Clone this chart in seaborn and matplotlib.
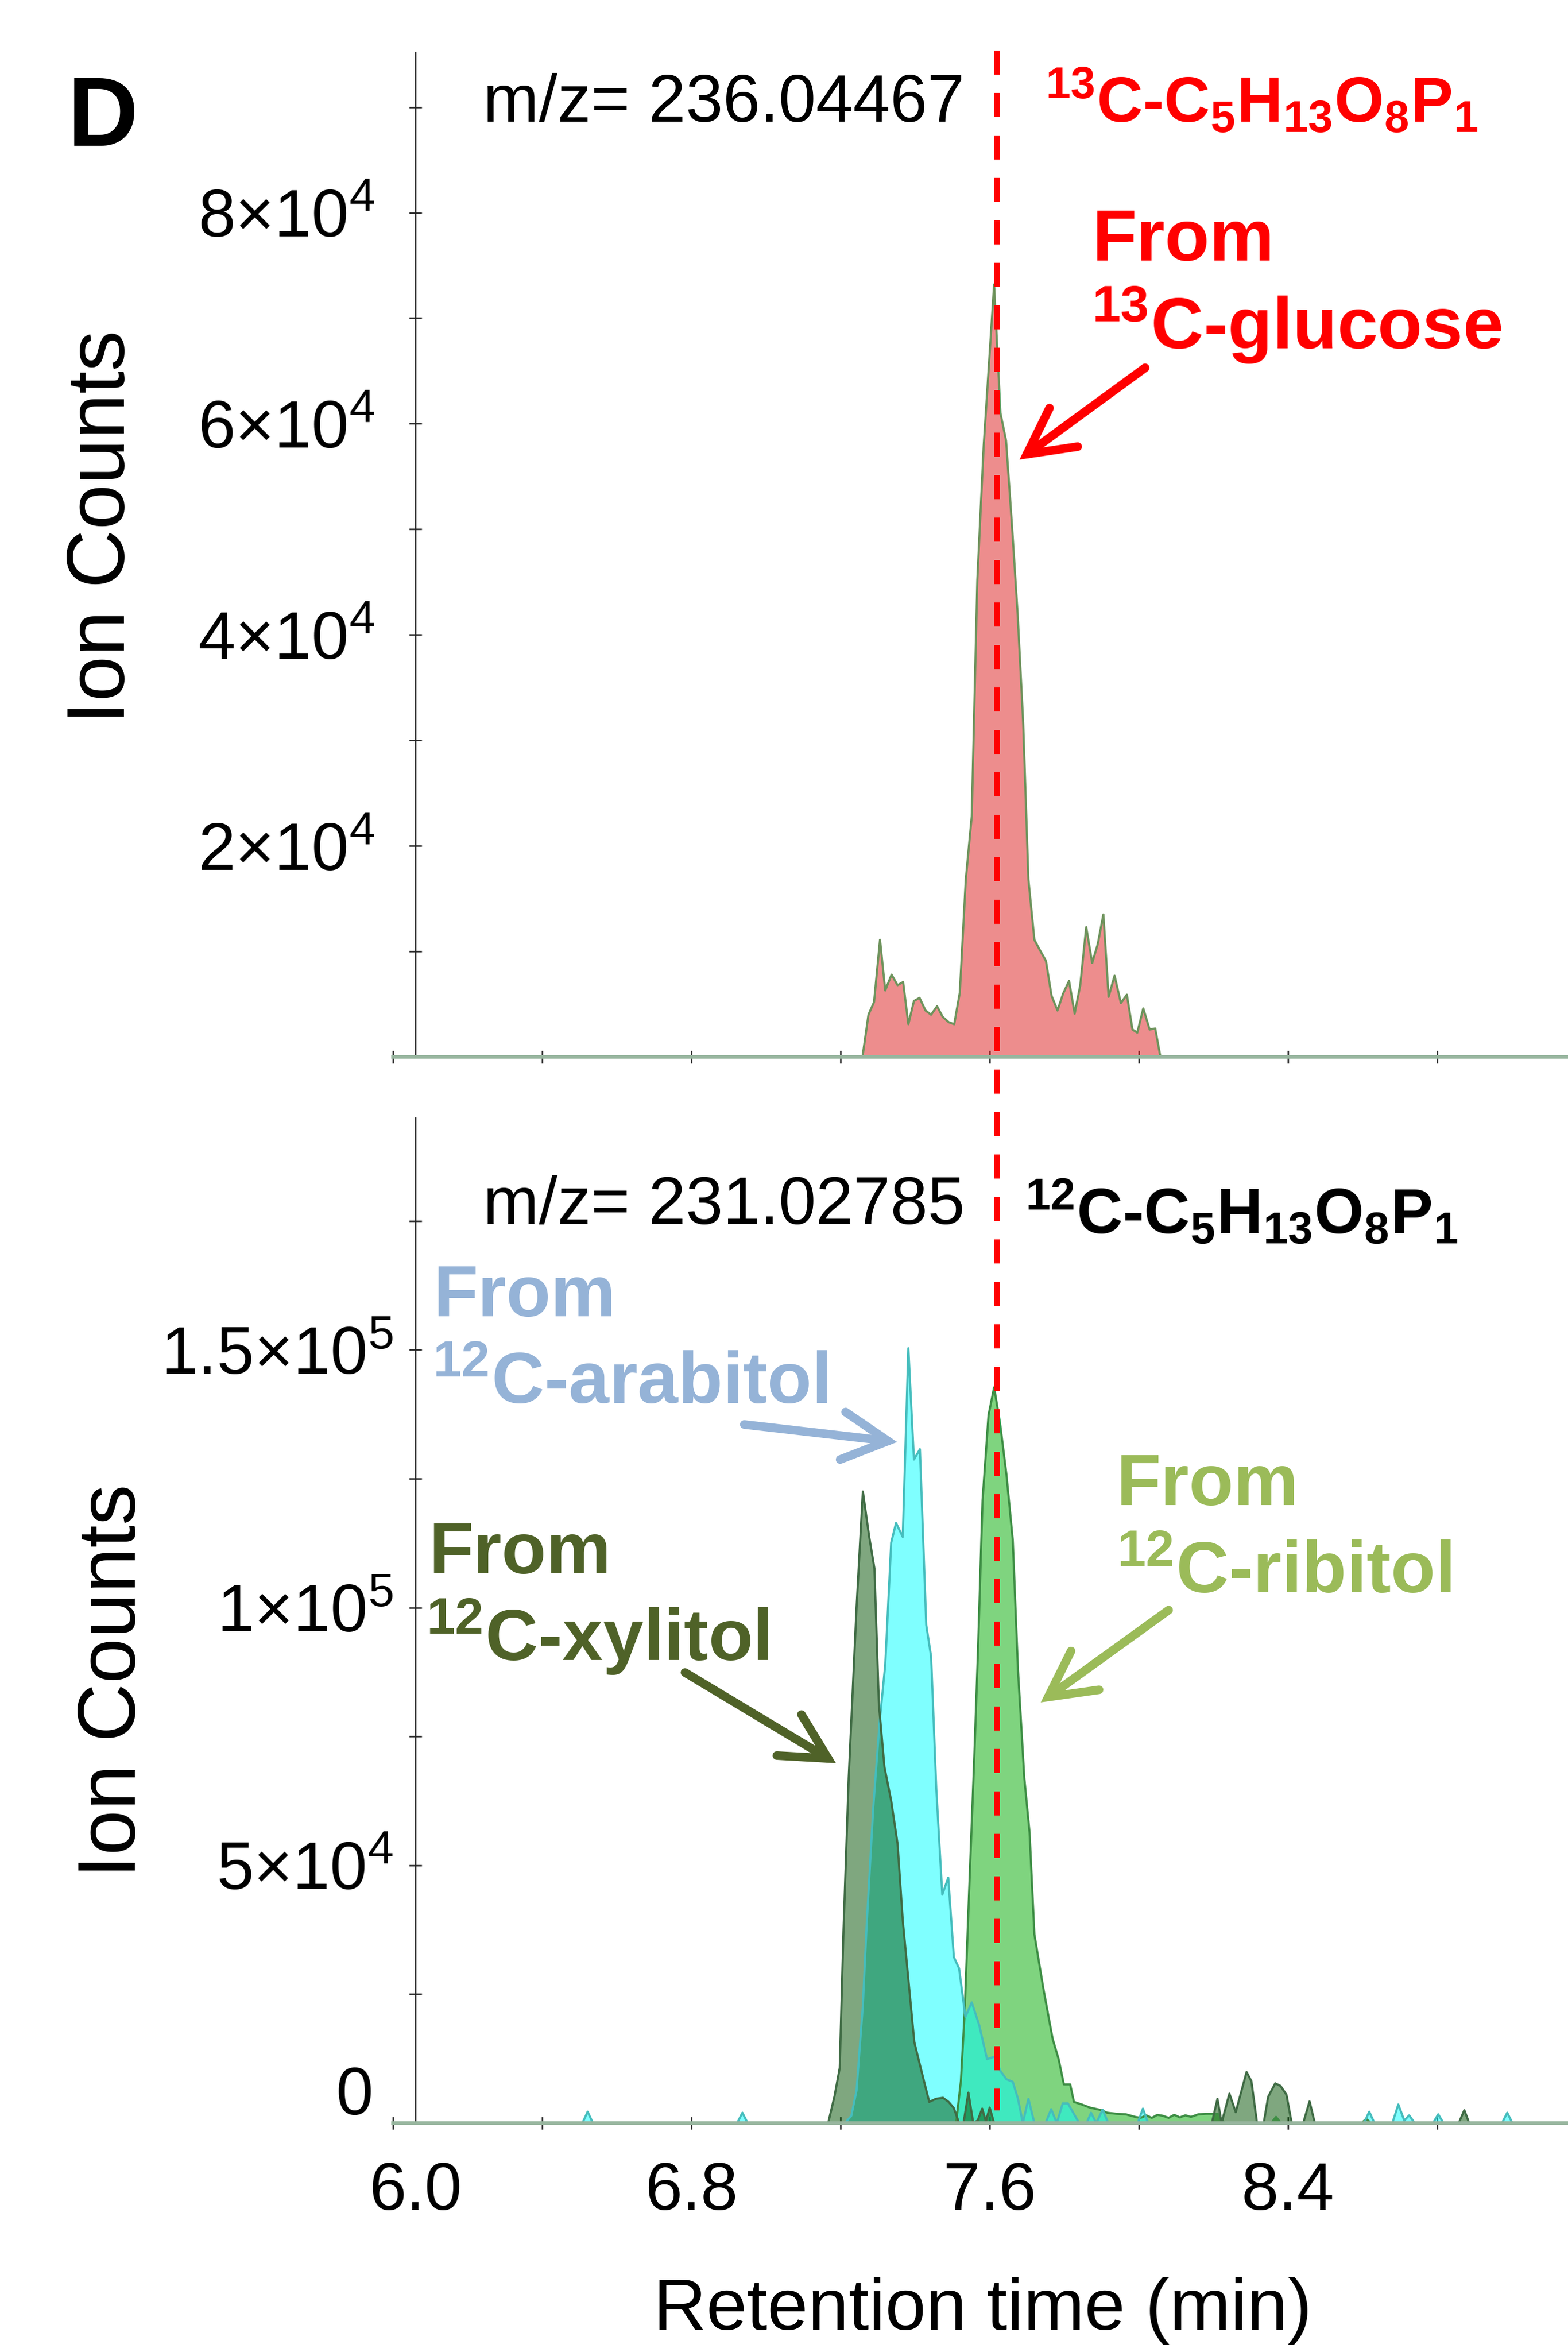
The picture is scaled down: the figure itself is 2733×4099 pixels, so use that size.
import numpy as np
import pandas as pd
import matplotlib
matplotlib.use("Agg")
import matplotlib.pyplot as plt
import matplotlib.transforms as mtransforms
from matplotlib.lines import Line2D
from matplotlib.ticker import FixedLocator, FixedFormatter, NullFormatter
import seaborn as sns

# ---------------- data (ion counts in units of 1e4) ----------------
t_glucose = [7.259, 7.275, 7.290, 7.306, 7.320, 7.337, 7.353, 7.368, 7.382, 7.397,
             7.412, 7.428, 7.443, 7.459, 7.474, 7.490, 7.505, 7.520, 7.536, 7.552,
             7.567, 7.584, 7.612, 7.629, 7.644, 7.660, 7.675, 7.690, 7.704, 7.720,
             7.735, 7.751, 7.766, 7.782, 7.797, 7.813, 7.828, 7.843, 7.859, 7.875,
             7.890, 7.905, 7.919, 7.935, 7.952, 7.968, 7.983, 7.996, 8.012, 8.029,
             8.044, 8.058]
i_glucose_e4 = [0, 0.40, 0.52, 1.11, 0.63, 0.78, 0.68, 0.71, 0.31, 0.53,
                0.56, 0.44, 0.40, 0.48, 0.38, 0.33, 0.31, 0.61, 1.68, 2.28,
                4.52, 5.79, 7.32, 6.10, 5.84, 5.03, 4.20, 3.16, 1.68, 1.11,
                1.01, 0.91, 0.58, 0.44, 0.60, 0.72, 0.41, 0.68, 1.23, 0.89,
                1.07, 1.35, 0.57, 0.77, 0.51, 0.59, 0.26, 0.23, 0.46, 0.26,
                0.27, 0]

t_ribitol = [7.510, 7.523, 7.533, 7.545, 7.559, 7.569, 7.581, 7.597, 7.612, 7.628,
             7.645, 7.662, 7.676, 7.693, 7.707, 7.720, 7.744, 7.769, 7.785, 7.799,
             7.816, 7.826, 7.847, 7.869, 7.900, 7.915, 7.940, 7.965, 7.990, 8.005,
             8.020, 8.035, 8.050, 8.065, 8.080, 8.095, 8.110, 8.125, 8.140, 8.160,
             8.180, 8.212, 8.230, 8.355, 8.368, 8.381, 8.597, 8.610, 8.623]
i_ribitol_e4 = [0, 0.82, 2.15, 4.49, 7.13, 9.22, 12.08, 13.73, 14.27, 13.57,
                12.58, 11.31, 8.78, 6.69, 5.64, 3.66, 2.61, 1.63, 1.24, 0.75,
                0.75, 0.41, 0.36, 0.30, 0.25, 0.20, 0.18, 0.17, 0.12, 0.10,
                0.15, 0.10, 0.16, 0.14, 0.10, 0.16, 0.11, 0.15, 0.12, 0.17,
                0.18, 0.18, 0, 0, 0.12, 0, 0, 0.08, 0]

t_arabitol = [6.508, 6.522, 6.536, 6.923, 6.937, 6.951,
              7.212, 7.229, 7.243, 7.260, 7.270, 7.288, 7.305, 7.320, 7.336, 7.349,
              7.367, 7.382, 7.397, 7.413, 7.430, 7.443, 7.457, 7.473, 7.489, 7.504,
              7.518, 7.535, 7.552, 7.572, 7.593, 7.614, 7.628, 7.645, 7.662, 7.676,
              7.689, 7.704, 7.720, 7.750, 7.765, 7.780, 7.796, 7.810, 7.840, 7.860,
              7.872, 7.886, 7.903, 7.918, 7.997, 8.011, 8.025,
              8.604, 8.618, 8.632, 8.680, 8.696, 8.712, 8.725, 8.740, 8.789, 8.803,
              8.817, 8.974, 8.988, 9.002]
i_arabitol_e4 = [0, 0.22, 0, 0, 0.20, 0,
                 0, 0.14, 0.63, 2.28, 3.82, 6.13, 7.79, 8.89, 11.26, 11.64,
                 11.37, 15.03, 12.87, 13.07, 9.66, 9.05, 6.47, 4.43, 4.76, 3.22,
                 3.00, 2.06, 2.34, 1.90, 1.24, 1.29, 1.02, 0.85, 0.80, 0.47,
                 0, 0.47, 0, 0, 0.27, 0, 0.38, 0.38, 0, 0,
                 0.20, 0, 0.26, 0, 0, 0.28, 0,
                 0, 0.22, 0, 0, 0.36, 0.05, 0.15, 0, 0, 0.17,
                 0, 0, 0.20, 0]

t_xylitol = [7.167, 7.184, 7.198, 7.208, 7.222, 7.243, 7.260, 7.277, 7.291, 7.303,
             7.318, 7.336, 7.353, 7.367, 7.380, 7.398, 7.415, 7.438, 7.456, 7.475,
             7.490, 7.504, 7.518, 7.530, 7.543, 7.556, 7.568, 7.580, 7.590, 7.600,
             7.612, 8.196, 8.211, 8.222, 8.243, 8.260, 8.289, 8.302, 8.317, 8.335,
             8.347, 8.366, 8.380, 8.396, 8.410, 8.441, 8.458, 8.472, 8.858, 8.873,
             8.886]
i_xylitol_e4 = [0, 0.52, 1.07, 3.72, 6.69, 9.99, 12.25, 11.37, 10.76, 8.12,
                6.90, 6.25, 5.42, 3.93, 2.94, 1.57, 1.07, 0.41, 0.47, 0.49,
                0.41, 0.29, 0, 0, 0.59, 0, 0.05, 0.28, 0.03, 0.30,
                0, 0, 0.47, 0, 0.57, 0.21, 0.99, 0.81, 0, 0,
                0.51, 0.77, 0.72, 0.55, 0, 0, 0.42, 0, 0, 0.25,
                0]

UNIT = 1e4
x_major = [6.0, 6.8, 7.6, 8.4]
x_major_labels = ["6.0", "6.8", "7.6", "8.4"]
x_minor = [6.4, 7.2, 8.0, 8.8]
top_y_major = [2e4, 4e4, 6e4, 8e4]
top_y_labels = [r"$\mathdefault{2×10^{4}}$", r"$\mathdefault{4×10^{4}}$",
                r"$\mathdefault{6×10^{4}}$", r"$\mathdefault{8×10^{4}}$"]
top_y_minor = [0, 1e4, 3e4, 5e4, 7e4, 9e4]
bot_y_major = [0, 5e4, 1e5, 1.5e5]
bot_y_labels = ["0", r"$\mathdefault{5×10^{4}}$", r"$\mathdefault{1×10^{5}}$",
                r"$\mathdefault{1.5×10^{5}}$"]
bot_y_minor = [2.5e4, 7.5e4, 1.25e5, 1.75e5]
marker_rt = 7.62

# ---------------- style ----------------
sns.set_style("ticks")
plt.rcParams["font.family"] = ["Liberation Sans", "DejaVu Sans"]
plt.rcParams["mathtext.fontset"] = "custom"
plt.rcParams["mathtext.rm"] = "Liberation Sans"
plt.rcParams["mathtext.it"] = "Liberation Sans:italic"
plt.rcParams["mathtext.bf"] = "Liberation Sans:bold"
for k in ("text.color", "axes.labelcolor", "xtick.color", "ytick.color"):
    plt.rcParams[k] = "black"

W, H = 2733, 4099
fig = plt.figure(figsize=(W / 300, H / 300), dpi=300)
fig.patch.set_facecolor("white")


def fx(px):
    return px / W


def fy(py):
    return 1 - py / H


ax_top = fig.add_axes([fx(685), fy(1842), fx(2733) - fx(685), fy(91) - fy(1842)])
ax_bot = fig.add_axes([fx(685), fy(3700), fx(2733) - fx(685), fy(1948) - fy(3700)])

for ax in (ax_top, ax_bot):
    ax.set_facecolor("none")
    ax.set_xlim(6.0, 9.151)
    for s in ("top", "right"):
        ax.spines[s].set_visible(False)
    ax.spines["left"].set_position(("data", 6.06))
    ax.spines["left"].set_linewidth(0.6)
    ax.spines["left"].set_color("#222222")
    ax.spines["bottom"].set_linewidth(1.5)
    ax.spines["bottom"].set_color("#97b59e")
    ax.xaxis.set_major_locator(FixedLocator(x_major))
    ax.xaxis.set_minor_locator(FixedLocator(x_minor))
    ax.tick_params(axis="both", which="both", direction="inout", length=5.5,
                   width=0.6, color="#222222", labelsize=28, labelcolor="black")
    ax.tick_params(axis="x", which="both", pad=13)
    ax.xaxis.set_minor_formatter(NullFormatter())
    ax.yaxis.set_minor_formatter(NullFormatter())

ax_top.tick_params(axis="y", which="both", pad=14)
ax_bot.tick_params(axis="y", which="both", pad=6.5)


def area(ax, t, v, fill, edge, lw=0.9):
    y = np.asarray(v) * UNIT
    ax.fill_between(t, y, 0, color=fill, alpha=0.5, lw=0)
    sns.lineplot(x=t, y=y, ax=ax, color=edge, lw=lw, estimator=None, sort=False)


# top panel
area(ax_top, t_glucose, i_glucose_e4, "#DD1D1D", "#6E935C")
ax_top.set_ylim(0, 9.52e4)
ax_top.yaxis.set_major_locator(FixedLocator(top_y_major))
ax_top.yaxis.set_major_formatter(FixedFormatter(top_y_labels))
ax_top.yaxis.set_minor_locator(FixedLocator(top_y_minor))
ax_top.tick_params(axis="x", labelbottom=False)
ax_top.set_xlabel("")
ax_top.set_ylabel("")

# bottom panel
area(ax_bot, t_ribitol, i_ribitol_e4, "#00AA00", "#3E8E45")
area(ax_bot, t_arabitol, i_arabitol_e4, "#00FFFF", "#45BDBD")
area(ax_bot, t_xylitol, i_xylitol_e4, "#005000", "#3F6B44")
ax_bot.set_ylim(0, 1.95e5)
ax_bot.yaxis.set_major_locator(FixedLocator(bot_y_major))
ax_bot.yaxis.set_major_formatter(FixedFormatter(bot_y_labels))
ax_bot.yaxis.set_minor_locator(FixedLocator(bot_y_minor))
ax_bot.xaxis.set_major_formatter(FixedFormatter(x_major_labels))
ax_bot.set_xlabel("")
ax_bot.set_ylabel("")

# small label offsets as in the reference ("0" raised, "6.0" shifted right)
ytick0 = ax_bot.yaxis.get_major_ticks(len(bot_y_major))[0]
ytick0.label1.set_transform(ytick0.label1.get_transform() +
                            mtransforms.ScaledTranslation(-35 / 300, 57 / 300, fig.dpi_scale_trans))
xtick0 = ax_bot.xaxis.get_major_ticks(len(x_major))[0]
xtick0.label1.set_transform(xtick0.label1.get_transform() +
                            mtransforms.ScaledTranslation(39 / 300, 0, fig.dpi_scale_trans))

# dashed marker line across both panels
trans = mtransforms.blended_transform_factory(ax_bot.transData, fig.transFigure)
fig.add_artist(Line2D([marker_rt, marker_rt], [fy(88), fy(3678)], transform=trans,
                      color="#FF0000", lw=2.4, linestyle=(0, (4.2, 3.2)), zorder=5))

# axis labels
fig.text(fx(180), fy(918), "Ion Counts", rotation=90, ha="center", va="center", fontsize=34)
fig.text(fx(199), fy(2929), "Ion Counts", rotation=90, ha="center", va="center", fontsize=34)
fig.text(fx(1713), fy(4027), "Retention time (min)", ha="center", va="center", fontsize=30.6)

# panel letter & headers
fig.text(fx(118), fy(254), "D", fontsize=41, fontweight="bold", va="baseline")
fig.text(fx(842), fy(212), "m/z= 236.04467", fontsize=28, va="baseline")
fig.text(fx(842), fy(2133), "m/z= 231.02785", fontsize=28, va="baseline")
formula_13 = (r"${}^{\mathdefault{13}}$C-C$_{\mathdefault{5}}$H$_{\mathdefault{13}}$"
              r"O$_{\mathdefault{8}}$P$_{\mathdefault{1}}$")
formula_12 = (r"${}^{\mathdefault{12}}$C-C$_{\mathdefault{5}}$H$_{\mathdefault{13}}$"
              r"O$_{\mathdefault{8}}$P$_{\mathdefault{1}}$")
fig.text(fx(1821), fy(213), formula_13, fontsize=26.6, fontweight="bold",
         color="#FF0000", va="baseline")
fig.text(fx(1786), fy(2150), formula_12, fontsize=26.6, fontweight="bold",
         color="black", va="baseline")

# source annotations
RED, BLUE, DKGRN, LTGRN = "#FF0000", "#95B3D7", "#4F6228", "#9BBB59"
LBL = 30.5
fig.text(fx(1904), fy(454), "From", fontsize=LBL, fontweight="bold", color=RED, va="baseline")
fig.text(fx(1902), fy(608), r"${}^{\mathdefault{13}}$C-glucose", fontsize=LBL,
         fontweight="bold", color=RED, va="baseline")
fig.text(fx(755), fy(2294), "From", fontsize=LBL, fontweight="bold", color=BLUE, va="baseline")
fig.text(fx(753), fy(2447), r"${}^{\mathdefault{12}}$C-arabitol", fontsize=LBL,
         fontweight="bold", color=BLUE, va="baseline")
fig.text(fx(747), fy(2742), "From", fontsize=LBL, fontweight="bold", color=DKGRN, va="baseline")
fig.text(fx(742), fy(2895), r"${}^{\mathdefault{12}}$C-xylitol", fontsize=LBL,
         fontweight="bold", color=DKGRN, va="baseline")
fig.text(fx(1946), fy(2623), "From", fontsize=LBL, fontweight="bold", color=LTGRN, va="baseline")
fig.text(fx(1946), fy(2777), r"${}^{\mathdefault{12}}$C-ribitol", fontsize=LBL,
         fontweight="bold", color=LTGRN, va="baseline")


def arrow(ax, tip, tail, color):
    ax.annotate("", xy=tip, xytext=tail, annotation_clip=False,
                arrowprops=dict(arrowstyle="->, head_length=0.95, head_width=0.5",
                                mutation_scale=20, lw=3.6, color=color,
                                shrinkA=0, shrinkB=0, capstyle="round",
                                joinstyle="miter"))


arrow(ax_top, (7.680, 5.66e4), (8.017, 6.53e4), RED)
arrow(ax_bot, (7.352, 1.321e5), (6.942, 1.355e5), BLUE)
arrow(ax_bot, (7.188, 0.698e5), (6.783, 0.874e5), DKGRN)
arrow(ax_bot, (7.737, 0.816e5), (8.080, 0.995e5), LTGRN)

fig.savefig("out.png", dpi=300, facecolor="white")
